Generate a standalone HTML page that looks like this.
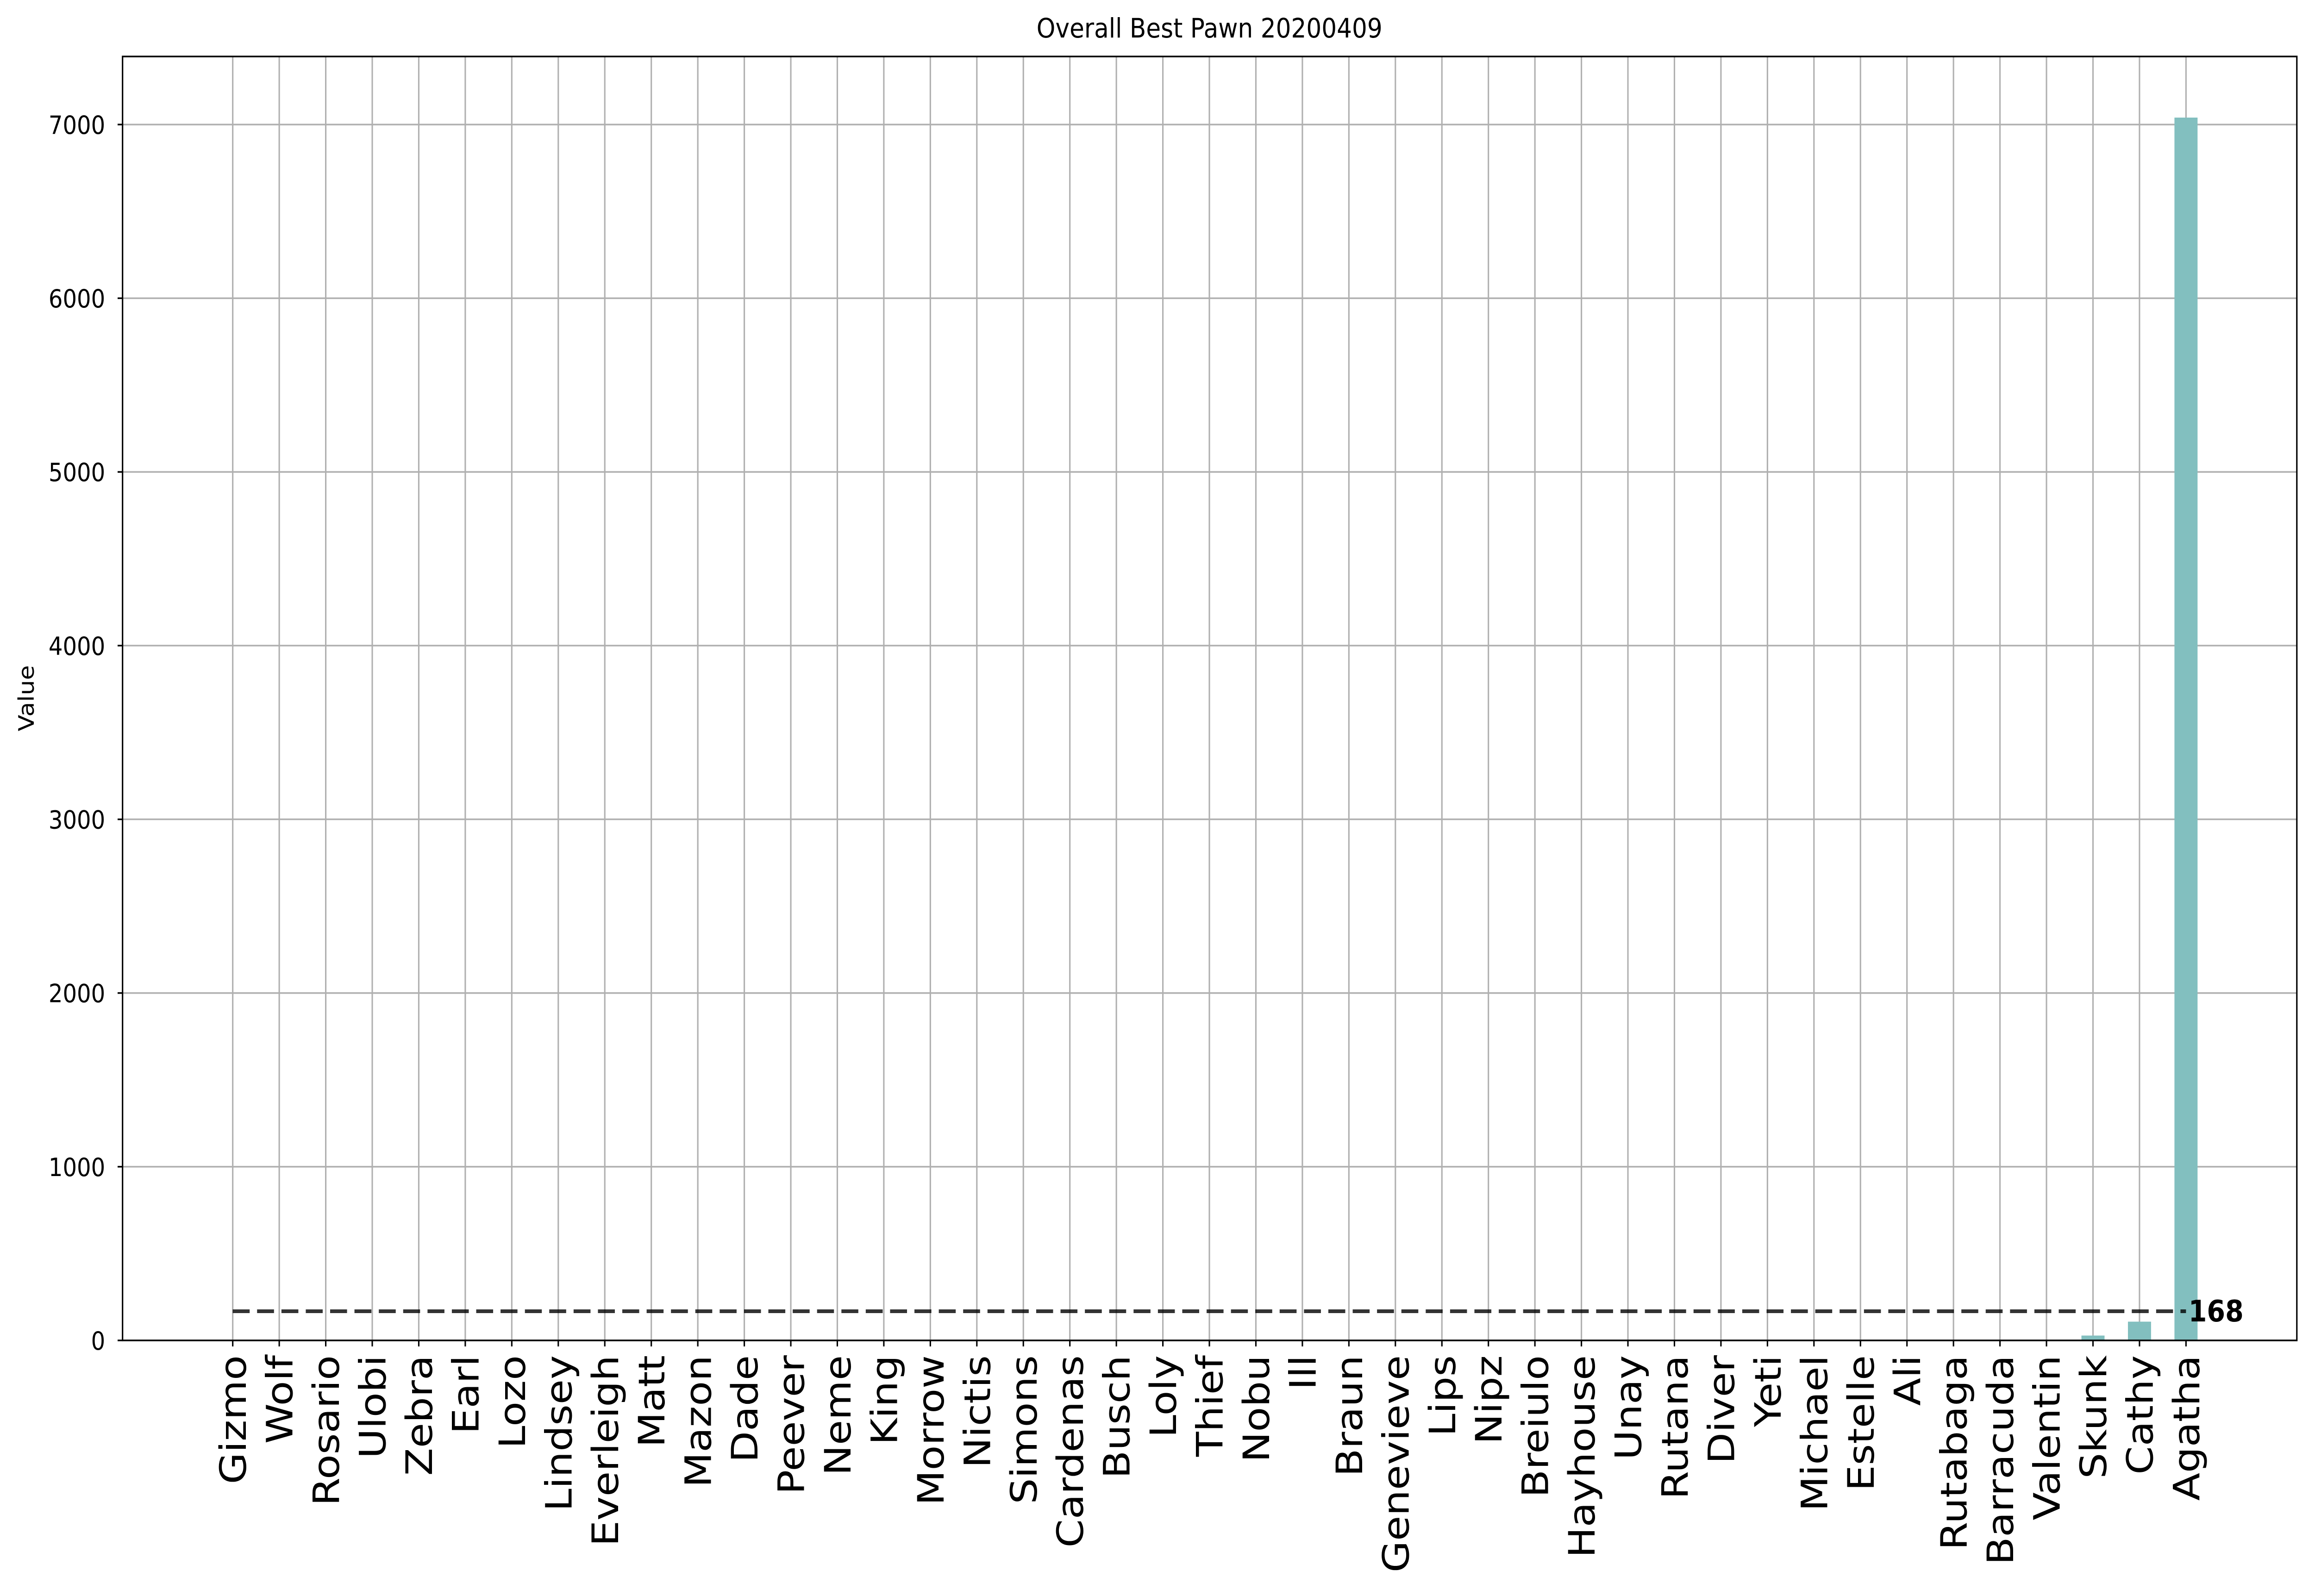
<!DOCTYPE html>
<html><head><meta charset="utf-8"><style>html,body{margin:0;padding:0;background:#fff;width:100%;height:100%;overflow:hidden}svg{display:block;width:100vw;height:100vh}text{font-family:"DejaVu Sans","Liberation Sans",sans-serif}</style></head>
<body>
<svg id="chart" viewBox="0 0 5610 3447" preserveAspectRatio="none" xmlns="http://www.w3.org/2000/svg">
<rect width="5610" height="3447" fill="#fff"/>
<text x="2931" y="81" font-size="58" text-anchor="middle">Overall Best Pawn 20200409</text>
<text transform="translate(82,1508) rotate(-90)" font-size="52" text-anchor="middle">Value</text>
<g id="grid"></g><g id="bars"></g><g id="ticks"></g>
<rect x="297" y="122" width="5269" height="2773" fill="none" stroke="#000" stroke-width="3.5"/>
</svg>
<script>
const categories=["Gizmo","Wolf","Rosario","Ulobi","Zebra","Earl","Lozo","Lindsey","Everleigh","Matt","Mazon","Dade","Peever","Neme","King","Morrow","Nictis","Simons","Cardenas","Busch","Loly","Thief","Nobu","Ill","Braun","Genevieve","Lips","Nipz","Breiulo","Hayhouse","Unay","Rutana","Diver","Yeti","Michael","Estelle","Ali","Rutabaga","Barracuda","Valentin","Skunk","Cathy","Agatha"];
const values=[0,0,0,0,0,0,0,0,0,0,0,0,0,0,0,0,0,0,0,0,0,0,0,0,0,0,0,0,0,0,0,0,0,0,0,0,0,0,0,0,28,108,7040];
const yTicks=[0,1000,2000,3000,4000,5000,6000,7000];
const averageValue=[168];
const NS="http://www.w3.org/2000/svg";
const x0=297,x1=5566,yTop=122,yBot=2895;
function xs(i){return 564+i*112.7;}
function ys(v){return yBot-v*0.37515;}
function mk(tag,attrs,parent){const e=document.createElementNS(NS,tag);for(const k in attrs)e.setAttribute(k,attrs[k]);parent.appendChild(e);return e;}
const grid=document.getElementById('grid'),bars=document.getElementById('bars'),ticks=document.getElementById('ticks');
yTicks.forEach(t=>{
 const y=ys(t);
 const g=mk('line',{x1:x0,x2:x1,y1:y,y2:y,stroke:'#b0b0b0','stroke-width':3.5},grid);
 
 
 const tk=mk('line',{x1:x0-12,x2:x0,y1:y,y2:y,stroke:'#000','stroke-width':3.5},ticks);
 
 
 const lb=mk('text',{x:x0-42,y:y+20,'font-size':54,'text-anchor':'end'},ticks);
 lb.textContent=t;
 
 
});
categories.forEach((c,i)=>{
 const x=xs(i);
 const g=mk('line',{x1:x,x2:x,y1:yTop,y2:yBot,stroke:'#b0b0b0','stroke-width':3.5},grid);
 
 
 const h=yBot-ys(values[i]);
 const b=mk('rect',{x:x-28,y:ys(values[i]),width:56,height:h,fill:'#82bfbf'},bars);
 
 
 const tk=mk('line',{x1:x,x2:x,y1:yBot,y2:yBot+13,stroke:'#000','stroke-width':3.5},ticks);
 
 
 const lb=mk('text',{transform:`translate(${x+32},${yBot+32}) rotate(-90)`,'font-size':88,'text-anchor':'end'},ticks);
 lb.textContent=c;
 
 
});
const ay=ys(averageValue[0]);
const al=mk('line',{x1:xs(0),x2:xs(categories.length-1),y1:ay,y2:ay,stroke:'#000','stroke-opacity':0.8,'stroke-width':8,'stroke-dasharray':'41,18'},bars);


const at=mk('text',{x:xs(categories.length-1)+6,y:ay+22,'font-size':64,'font-weight':'bold'},bars);
at.textContent=averageValue[0];


</script>
</body></html>
